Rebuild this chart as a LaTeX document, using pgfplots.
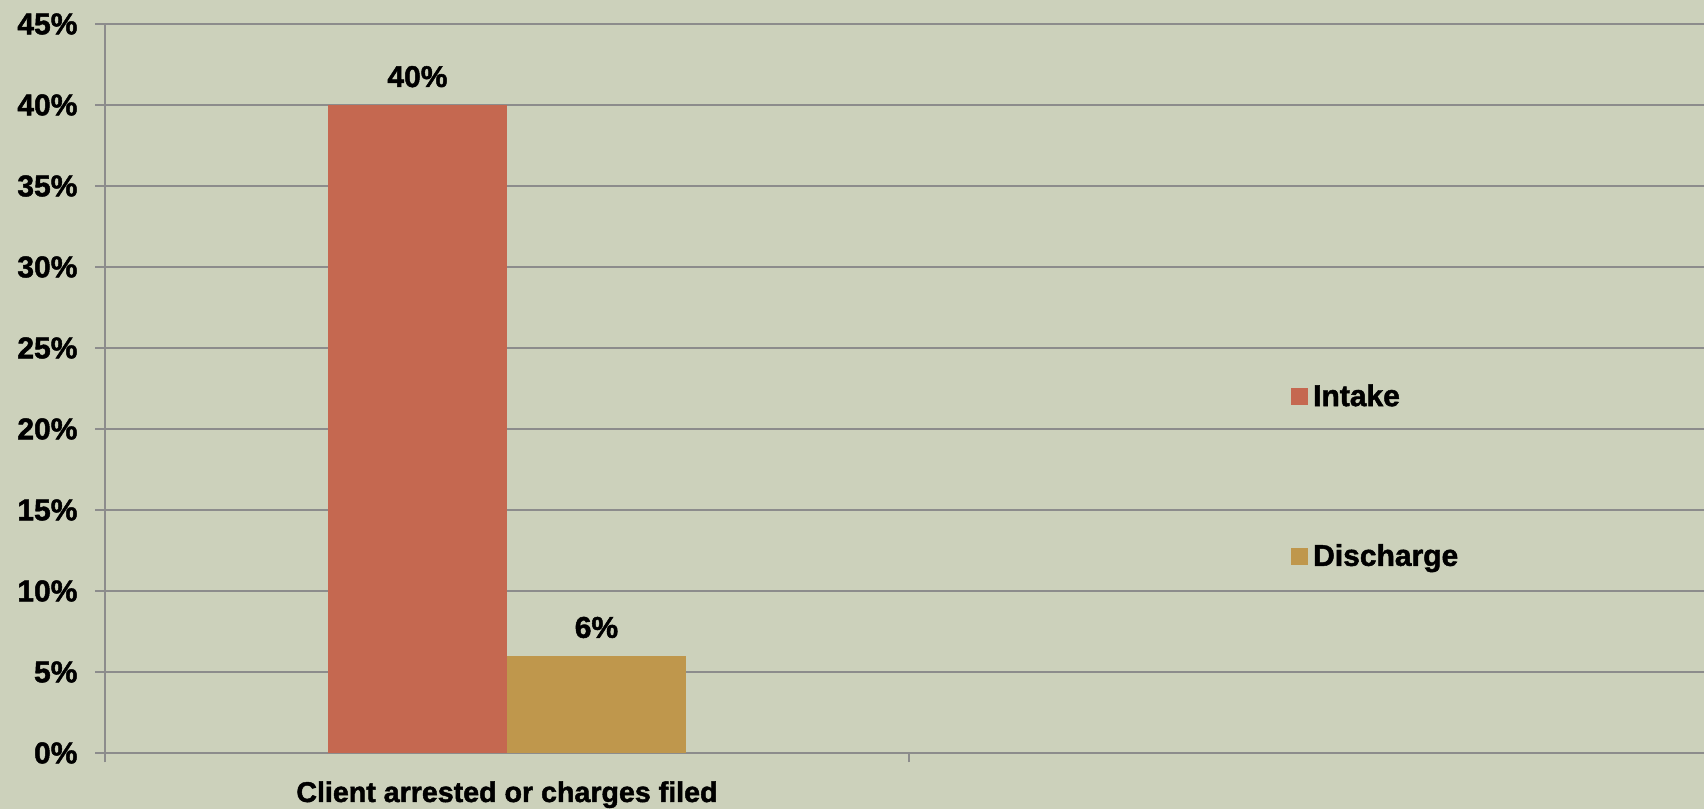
\documentclass[border=0pt]{standalone}
\usepackage{fontspec}
\setmainfont{Liberation Sans}[BoldFeatures={FakeBold=1.6}]
\usepackage{pgfplots}
\pgfplotsset{compat=1.18}
\definecolor{bgcol}{RGB}{204,209,187}
\definecolor{intake}{RGB}{197,104,80}
\definecolor{discharge}{RGB}{191,151,76}
\definecolor{gridgray}{RGB}{140,140,140}
\begin{document}
\begin{tikzpicture}
\fill[bgcol] (-52.5pt,-28pt) rectangle (799.5pt,376.5pt);
\begin{axis}[
    at={(0,0)}, anchor=south west,
    scale only axis,
    width=799.5pt, height=364.5pt,
    xmin=0, xmax=1.989,
    ymin=0, ymax=45,
    axis x line*=bottom, axis y line*=left,
    axis line style={-, draw=gridgray, line width=1pt},
    tick align=outside,
    major tick length=4.75pt,
    tick style={draw=gridgray, line width=1pt},
    xtick={0,1}, xticklabels={},
    extra x ticks={0.5},
    extra x tick labels={Client arrested or charges filed},
    extra x tick style={major tick length=0pt,
        tick label style={font=\fontsize{14.3}{16}\selectfont\bfseries, anchor=base, yshift=-24.5pt}},
    ytick={0,5,...,45},
    yticklabel={\pgfmathprintnumber{\tick}\%},
    /pgf/number format/assume math mode=true,
    yticklabel style={font=\fontsize{15}{16}\selectfont\bfseries, anchor=east, xshift=-5.5pt},
    ymajorgrids,
    grid style={draw=gridgray, line width=1pt},
    nodes near coords={\pgfmathprintnumber{\pgfplotspointmeta}\%},
    every node near coord/.append style={font=\fontsize{15}{16}\selectfont\bfseries, anchor=base, yshift=9pt},
    legend style={at={(axis cs:1.475,22.78)}, anchor=north west,
        draw=none, fill=none, inner sep=0pt, row sep=67.5pt,
        font=\fontsize{15}{18}\selectfont\bfseries,
        cells={anchor=west}, nodes={inner xsep=2.5pt, inner ysep=0pt}},
]
\addplot[ybar, fill=intake, draw=none, bar width=89.5pt, bar shift=-44.75pt,
    every node near coord/.append style={xshift=-44.75pt},
    legend image code/.code={\fill[intake] (0pt,-4.25pt) rectangle (8.5pt,4.25pt);}]
    coordinates {(0.5,40)};
\addlegendentry{Intake}
\addplot[ybar, fill=discharge, draw=none, bar width=89.5pt, bar shift=44.75pt,
    every node near coord/.append style={xshift=44.75pt},
    legend image code/.code={\fill[discharge] (0pt,-4.25pt) rectangle (8.5pt,4.25pt);}]
    coordinates {(0.5,6)};
\addlegendentry{Discharge}
\end{axis}
\pgfresetboundingbox
\useasboundingbox (-52.5pt,-28pt) rectangle (799.5pt,376.5pt);
\end{tikzpicture}
\end{document}
